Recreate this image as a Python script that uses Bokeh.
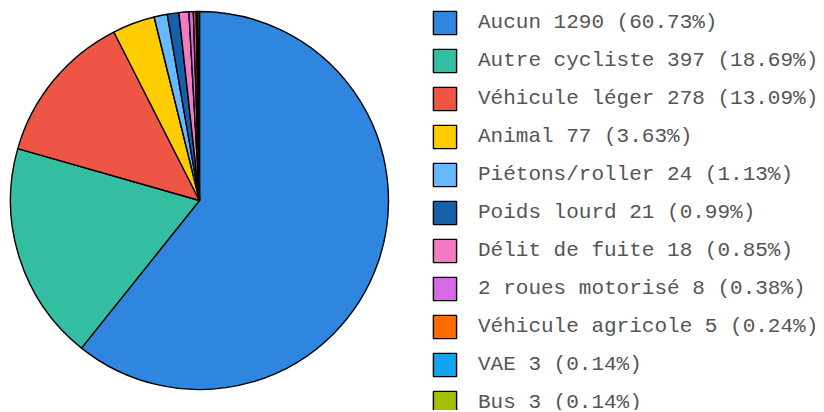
import math
from bokeh.plotting import figure
from bokeh.models import ColumnDataSource, Legend, LegendItem, Range1d
from bokeh.embed import file_html
from bokeh.resources import INLINE

categories = ["Aucun", "Autre cycliste", "Véhicule léger", "Animal", "Piétons/roller",
              "Poids lourd", "Délit de fuite", "2 roues motorisé", "Véhicule agricole",
              "VAE", "Bus"]
counts = [1290, 397, 278, 77, 24, 21, 18, 8, 5, 3, 3]
colors = ["#2e86de", "#33bea2", "#ee5544", "#ffcc00", "#66b8ff", "#1560a8",
          "#f27bc4", "#d66ae4", "#ff6d00", "#12a4ec", "#a4bf00"]

W, H = 822, 410
total = sum(counts)
starts, ends, labels = [], [], []
acc = 0.0
for c in counts:
    a0 = acc / total * 2 * math.pi
    acc += c
    a1 = acc / total * 2 * math.pi
    starts.append(math.pi / 2 - a0)
    ends.append(math.pi / 2 - a1)
for cat, c in zip(categories, counts):
    labels.append(f"{cat} {c} ({c / total * 100:.2f}%)")

src = ColumnDataSource(dict(start=starts, end=ends, color=colors, label=labels))

p = figure(width=W, height=H, output_backend="svg", toolbar_location=None,
           x_range=Range1d(0, W), y_range=Range1d(0, H), min_border=0)
p.axis.visible = False
p.grid.visible = False
p.outline_line_color = None
p.background_fill_color = None

cx, cy, r = 199, H - 200, 189
rend = p.wedge(x=cx, y=cy, radius=r, start_angle="start", end_angle="end",
               direction="clock", fill_color="color", line_color="black",
               line_width=1.4, source=src)

gs = 29
sp = 9
n = len(labels)
leg_h = n * gs + (n - 1) * sp
items = [LegendItem(label=labels[i], renderers=[rend], index=i) for i in range(n)]
legend = Legend(items=items, location=(430, H - 8 - leg_h),
                glyph_width=gs, glyph_height=gs, label_height=gs, spacing=sp,
                label_standoff=19, padding=0, margin=0,
                border_line_color=None, background_fill_color=None,
                label_text_font="Liberation Mono", label_text_font_size="21px",
                label_text_color="#555555")
p.add_layout(legend, "center")

open("out.html", "w").write(file_html(p, INLINE))
